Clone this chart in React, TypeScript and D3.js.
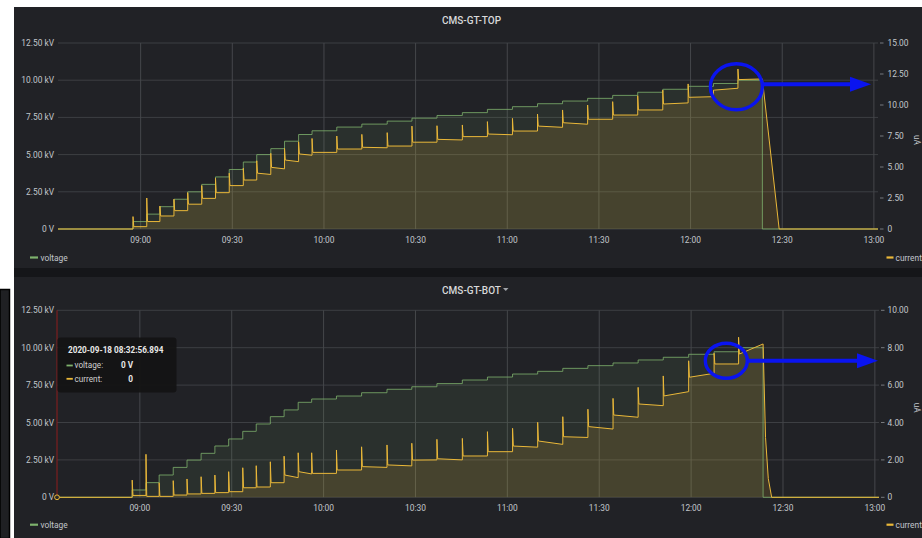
import * as d3 from 'd3';

// minutes relative to 09:00 on 2020-09-18
const stepMinutes = [
  -2.5, 2.0, 6.3, 10.9, 15.4, 20.0, 24.5, 29.0, 33.6, 38.0, 42.6, 47.1, 51.7, 56.1, 64.2, 72.4,
  80.7, 88.8, 97.0, 105.3, 113.5, 121.7, 129.9, 138.1, 146.3, 154.5, 162.7, 170.9, 179.2, 187.5, 195.5,
];
const rampOffMinute = 203.5;

const topVoltageKV = [
  0.5, 1.0, 1.5, 2.0, 2.5, 3.0, 3.5, 4.0, 4.5, 5.0, 5.4, 5.9, 6.35, 6.6, 6.85, 7.05,
  7.25, 7.45, 7.63, 7.82, 8.04, 8.22, 8.42, 8.6, 8.78, 8.98, 9.19, 9.39, 9.59, 9.78, 10.0,
];
const topCurrentSpike = [
  1.0, 2.5, 1.85, 2.4, 2.93, 3.5, 4.09, 4.5, 4.9, 5.5, 6.1, 6.5, 7.04, 7.3, 7.5, 7.63,
  7.77, 8.3, 8.33, 8.39, 8.66, 8.92, 9.27, 9.6, 10.0, 10.27, 10.75, 11.2, 11.7, 11.2, 12.9,
];
const topCurrentStart = [
  0.19, 0.6, 1.05, 1.48, 2.0, 2.47, 2.93, 3.5, 3.95, 4.5, 4.97, 5.56, 6.05, 6.18, 6.45, 6.59,
  6.69, 7.0, 7.23, 7.45, 7.66, 7.9, 8.3, 8.57, 8.85, 9.19, 9.6, 10.08, 10.62, 11.2, 12.05,
];
const topCurrentEnd = [
  0.19, 0.6, 1.05, 1.48, 2.0, 2.47, 2.93, 3.5, 3.95, 4.4, 4.85, 5.43, 5.95, 6.18, 6.45, 6.55,
  6.69, 7.0, 7.18, 7.45, 7.6, 7.9, 8.2, 8.45, 8.85, 9.19, 9.6, 10.17, 10.67, 11.35, 12.1,
];
const topCurrentTail: [number, number][] = [[209.0, 0]];

const botVoltageKV = [
  0.49, 0.98, 1.49, 2.0, 2.49, 2.94, 3.43, 3.9, 4.41, 4.9, 5.39, 5.84, 6.35, 6.57, 6.77, 6.99,
  7.22, 7.39, 7.6, 7.84, 8.04, 8.24, 8.42, 8.62, 8.8, 8.98, 9.18, 9.36, 9.56, 9.73, 10.0,
];
const botCurrentSpike = [
  0.92, 2.3, 0.78, 0.89, 0.98, 1.1, 1.19, 1.37, 1.58, 1.69, 1.9, 2.2, 2.38, 2.38, 2.53, 2.7,
  2.8, 2.89, 3.1, 3.15, 3.51, 3.69, 4.01, 4.31, 4.71, 5.29, 5.88, 6.49, 7.3, 7.7, 8.56,
];
const botCurrentStart = [
  0.1, 0.05, 0.05, 0.12, 0.18, 0.21, 0.25, 0.3, 0.51, 0.55, 0.78, 1.19, 1.37, 1.28, 1.46, 1.64,
  1.73, 1.99, 2.06, 2.21, 2.44, 2.74, 3.01, 3.24, 3.78, 4.4, 4.99, 5.42, 6.42, 7.13, 7.66,
];
const botCurrentEnd = [
  0.1, 0.05, 0.05, 0.12, 0.18, 0.21, 0.25, 0.3, 0.51, 0.55, 0.78, 1.05, 1.25, 1.28, 1.46, 1.6,
  1.68, 2.0, 2.0, 2.21, 2.44, 2.68, 2.83, 3.2, 3.65, 4.28, 4.9, 5.65, 6.63, 7.13, 8.2,
];
const botCurrentTail: [number, number][] = [[204.3, 3.2], [205.2, 1.0], [206.3, 0]];

const voltageTicks = [0, 2.5, 5, 7.5, 10, 12.5];
const topCurrentTicks = [0, 2.5, 5, 7.5, 10, 12.5, 15];
const botCurrentTicks = [0, 2, 4, 6, 8, 10];

const startMinute = -27.052; // 08:32:56.894
const endMinute = 241.35;
const base = new Date(2020, 8, 18, 9, 0, 0).getTime();
const toDate = (m: number) => new Date(base + m * 60000);

const GREEN = '#7eb26d';
const YELLOW = '#eab839';
const TEXT = '#c2c6cb';
const GRID = '#3d3f43';
const FONT = "Roboto, 'Helvetica Neue', Arial, sans-serif";

function voltageSeries(levels: number[]): [number, number][] {
  const pts: [number, number][] = [[startMinute, 0]];
  let prev = 0;
  stepMinutes.forEach((m, i) => {
    pts.push([m, prev], [m, levels[i]]);
    prev = levels[i];
  });
  pts.push([rampOffMinute, prev], [rampOffMinute, 0], [endMinute, 0]);
  return pts;
}

function currentSeries(spike: number[], start: number[], end: number[], tail: [number, number][]) {
  const pts: [number, number][] = [[startMinute, 0]];
  let prev = 0;
  stepMinutes.forEach((m, i) => {
    pts.push([m, prev], [m, spike[i]], [m + 0.25, start[i]]);
    prev = end[i];
  });
  pts.push([rampOffMinute, prev], ...tail, [endMinute, 0]);
  return pts;
}

interface PanelProps {
  panelY: number;
  left: number;
  right: number;
  plotTop: number;
  plotBottom: number;
  title: string;
  caret?: boolean;
  voltage: [number, number][];
  current: [number, number][];
  currentMax: number;
  currentTicks: number[];
  legendY: number;
  mark: { m: number; kv: number; rx: number; ry: number; arrowKv: number; tipX: number };
  tooltip?: boolean;
}

function Panel(p: PanelProps) {
  const x = d3.scaleTime().domain([toDate(startMinute), toDate(endMinute)]).range([p.left, p.right]);
  const yV = d3.scaleLinear().domain([0, 12.5]).range([p.plotBottom, p.plotTop]);
  const yC = d3.scaleLinear().domain([0, p.currentMax]).range([p.plotBottom, p.plotTop]);
  const timeTicks = x.ticks(d3.timeMinute.every(30)!);
  const fmt = d3.timeFormat('%H:%M');

  const vLine = d3.line<[number, number]>().x(d => x(toDate(d[0]))).y(d => yV(d[1]));
  const vArea = d3.area<[number, number]>().x(d => x(toDate(d[0]))).y0(yV(0)).y1(d => yV(d[1]));
  const cLine = d3.line<[number, number]>().x(d => x(toDate(d[0]))).y(d => yC(d[1]));
  const cArea = d3.area<[number, number]>().x(d => x(toDate(d[0]))).y0(yC(0)).y1(d => yC(d[1]));

  const cx = x(toDate(p.mark.m));
  const cy = yV(p.mark.kv);
  const ay = yV(p.mark.arrowKv);
  const titleY = p.panelY + 16.5;
  const midY = (p.plotTop + p.plotBottom) / 2;

  return (
    <g>
      <rect x={14} y={p.panelY} width={908} height={261} fill="#212226" />
      <text x={471.5} y={titleY} textAnchor="middle" fill="#d8d9da" fontSize={10} fontWeight={500}>
        {p.title}
      </text>
      {p.caret && <path d={`M503,${titleY - 5.5}h5.5l-2.75,3z`} fill="#a0a3a8" />}

      {/* grid */}
      {voltageTicks.map(t => (
        <line key={'h' + t} x1={p.left} x2={p.right} y1={yV(t)} y2={yV(t)} stroke={GRID} strokeWidth={1} />
      ))}
      {timeTicks.map(t => (
        <line key={'v' + +t} x1={x(t)} x2={x(t)} y1={p.plotTop} y2={p.plotBottom} stroke="#45474b" strokeWidth={1} />
      ))}

      {/* series */}
      <path d={vArea(p.voltage)!} fill={GREEN} fillOpacity={0.1} />
      <path d={cArea(p.current)!} fill={YELLOW} fillOpacity={0.15} />
      <path d={vLine(p.voltage)!} fill="none" stroke={GREEN} strokeOpacity={0.8} strokeWidth={1} />
      <path d={cLine(p.current)!} fill="none" stroke={YELLOW} strokeWidth={1} />

      {/* left axis */}
      {voltageTicks.map(t => (
        <text key={'l' + t} x={54} y={yV(t) + 3} textAnchor="end" fill={TEXT} fontSize={8.4}>
          {t === 0 ? '0 V' : `${t.toFixed(2)} kV`}
        </text>
      ))}
      {/* right axis */}
      {p.currentTicks.map(t => (
        <g key={'r' + t}>
          <line x1={p.right + 2} x2={p.right + 5.5} y1={yC(t)} y2={yC(t)} stroke="#8e9196" strokeWidth={0.8} />
          <text x={887.5} y={yC(t) + 3} fill={TEXT} fontSize={8.4}>
            {t === 0 ? '0' : t.toFixed(2)}
          </text>
        </g>
      ))}
      <text transform={`translate(914,${midY + 4}) rotate(90)`} textAnchor="middle" fill={TEXT} fontSize={8.4}>
        uA
      </text>
      {/* x axis */}
      {timeTicks.map(t => (
        <text key={'x' + +t} x={x(t)} y={p.plotBottom + 13.5} textAnchor="middle" fill={TEXT} fontSize={8.4}>
          {fmt(t)}
        </text>
      ))}

      {/* legend */}
      <line x1={30} x2={38} y1={p.legendY} y2={p.legendY} stroke={GREEN} strokeWidth={2.2} />
      <text x={40.5} y={p.legendY + 3} fill={TEXT} fontSize={8.4}>voltage</text>
      <line x1={886.5} x2={893.5} y1={p.legendY} y2={p.legendY} stroke={YELLOW} strokeWidth={2.2} />
      <text x={895.5} y={p.legendY + 3} fill={TEXT} fontSize={8.4}>current</text>

      {/* hand-drawn annotation */}
      <ellipse cx={cx} cy={cy} rx={p.mark.rx} ry={p.mark.ry} fill="none" stroke="#0a14f0" strokeWidth={3.4} />
      <line x1={cx + p.mark.rx} x2={p.mark.tipX - 18} y1={ay} y2={ay} stroke="#0a14f0" strokeWidth={4} />
      <path d={`M${p.mark.tipX - 21},${ay - 7.5}L${p.mark.tipX},${ay}L${p.mark.tipX - 21},${ay + 7.5}Z`} fill="#0a14f0" />

      {p.tooltip && (
        <g>
          <line x1={p.left} x2={p.left} y1={p.plotTop} y2={p.plotBottom} stroke="#8f1c1c" strokeWidth={1} />
          <circle cx={p.left} cy={yC(0)} r={2.4} fill="#2a2a2a" stroke={YELLOW} strokeWidth={1} />
          <rect x={57.5} y={337.5} width={119} height={55} rx={3} fill="#141414" fillOpacity={0.95} />
          <text x={68} y={353.3} fill="#e8e8e8" fontSize={8.2} fontWeight={700}>
            {d3.timeFormat('%Y-%m-%d %H:%M:%S.%L')(new Date(2020, 8, 18, 8, 32, 56, 894))}
          </text>
          <line x1={66.5} x2={72.8} y1={365.5} y2={365.5} stroke={GREEN} strokeWidth={1.8} />
          <text x={74.5} y={368.3} fill="#d0d0d0" fontSize={8.2}>voltage:</text>
          <text x={133} y={368.3} textAnchor="end" fill="#e8e8e8" fontSize={8.2} fontWeight={700}>0 V</text>
          <line x1={66.5} x2={72.8} y1={378.8} y2={378.8} stroke={YELLOW} strokeWidth={1.8} />
          <text x={74.5} y={381.6} fill="#d0d0d0" fontSize={8.2}>current:</text>
          <text x={133} y={381.6} textAnchor="end" fill="#e8e8e8" fontSize={8.2} fontWeight={700}>0</text>
        </g>
      )}
    </g>
  );
}

export default function App() {
  const topV = voltageSeries(topVoltageKV);
  const topC = currentSeries(topCurrentSpike, topCurrentStart, topCurrentEnd, topCurrentTail);
  const botV = voltageSeries(botVoltageKV);
  const botC = currentSeries(botCurrentSpike, botCurrentStart, botCurrentEnd, botCurrentTail);

  return (
    <div>
      <style>{'body{margin:0}'}</style>
      <svg width={922} height={538} style={{ display: 'block', background: '#fff' }} fontFamily={FONT}>
        <rect x={0} y={289.5} width={9.5} height={249} fill="#1f2023" stroke="#000" strokeWidth={1.5} />
        <rect x={14} y={268} width={908} height={9} fill="#151619" />
        <Panel
          panelY={7}
          left={58}
          right={878}
          plotTop={43}
          plotBottom={229}
          title="CMS-GT-TOP"
          voltage={topV}
          current={topC}
          currentMax={15}
          currentTicks={topCurrentTicks}
          legendY={257.5}
          mark={{ m: 195.0, kv: 9.56, rx: 26, ry: 23, arrowKv: 9.73, tipX: 871 }}
        />
        <Panel
          panelY={277}
          left={57}
          right={879}
          plotTop={310.3}
          plotBottom={497.3}
          title="CMS-GT-BOT"
          caret
          voltage={botV}
          current={botC}
          currentMax={10}
          currentTicks={botCurrentTicks}
          legendY={524.7}
          mark={{ m: 191.5, kv: 9.13, rx: 21, ry: 17.5, arrowKv: 9.13, tipX: 878 }}
          tooltip
        />
      </svg>
    </div>
  );
}
